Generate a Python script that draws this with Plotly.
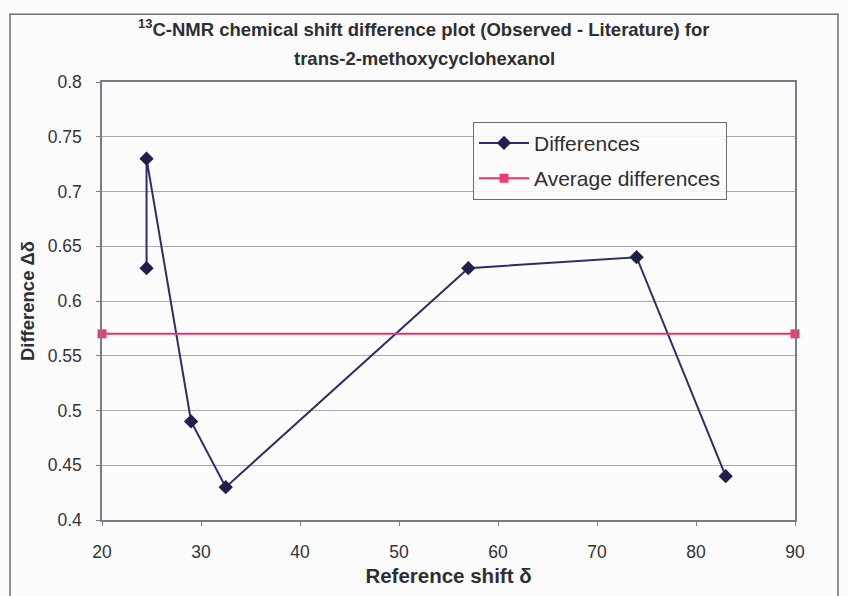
import plotly.graph_objects as go

# Reference shifts (ppm) and observed - literature differences
shift = [24.5, 24.5, 29.0, 32.5, 57.0, 74.0, 83.0]
diff = [0.63, 0.73, 0.49, 0.43, 0.63, 0.64, 0.44]

# Average difference drawn across the axis range
avg_x = [20, 90]
avg_y = [round(sum(diff) / len(diff), 3)] * 2

x_ticks = [20, 30, 40, 50, 60, 70, 80, 90]
y_ticks = [0.4, 0.45, 0.5, 0.55, 0.6, 0.65, 0.7, 0.75, 0.8]

title_lines = [
    "<sup>13</sup>C-NMR chemical shift difference plot (Observed - Literature) for",
    "trans-2-methoxycyclohexanol",
]

FONT = "Liberation Sans, Arial, sans-serif"
INK = "#2e2e33"

fig = go.Figure()
fig.add_trace(go.Scatter(
    x=shift, y=diff, mode="lines+markers", name="Differences",
    legendgroup="d",
    line=dict(color="#2d2d6c", width=2),
    marker=dict(symbol="diamond", size=11, color="#1f1f4c"),
))
fig.add_trace(go.Scatter(
    x=avg_x, y=avg_y, mode="lines+markers", name="Average differences",
    legendgroup="a",
    line=dict(color="#e4336a", width=2),
    marker=dict(symbol="square", size=9, color="#ee3a70"),
    cliponaxis=False,
))

W, H = 848, 596
L, R, T, B = 102, 795, 82, 522


def px(xp):
    return (xp - L) / (R - L)


def py(yp):
    return (B - yp) / (B - T)


annotations = [
    dict(text=f"<b>{line}</b>", xref="paper", yref="paper",
         x=px(424), y=py(yc), xanchor="center", yanchor="middle",
         showarrow=False, font=dict(family=FONT, size=18.5, color=INK))
    for line, yc in zip(title_lines, [28, 58])
]

fig.update_layout(
    width=W, height=H,
    margin=dict(l=L, r=W - R, t=T, b=H - B),
    paper_bgcolor="#fcfcfd",
    plot_bgcolor="#fcfcfd",
    showlegend=True,
    legend=dict(
        x=px(473), y=py(122), xanchor="left", yanchor="top",
        bgcolor="rgba(252,252,253,0.9)", bordercolor="#6a6a6a", borderwidth=1,
        font=dict(family=FONT, size=21, color=INK),
        tracegroupgap=5, itemwidth=50,
    ),
    annotations=annotations,
    xaxis=dict(
        range=[20, 90], tickvals=x_ticks, showgrid=False, zeroline=False,
        showline=True, linecolor="#7a7a8a", linewidth=1.5, mirror=True,
        ticks="outside", ticklen=4, tickcolor="#7a7a8a", ticklabelstandoff=11,
        tickfont=dict(family=FONT, size=17.5, color="#333"),
        title=dict(text="<b>Reference shift δ</b>", standoff=8,
                   font=dict(family=FONT, size=20.5, color=INK)),
    ),
    yaxis=dict(
        range=[0.4, 0.8], tickvals=y_ticks,
        ticktext=[f"{v:g}" for v in y_ticks],
        showgrid=True, gridcolor="#a8a8b0", gridwidth=1, zeroline=False,
        showline=True, linecolor="#7a7a8a", linewidth=1.5, mirror=True,
        ticks="outside", ticklen=4, tickcolor="#7a7a8a", ticklabelstandoff=11,
        tickfont=dict(family=FONT, size=17.5, color="#333"),
        title=dict(text="<b>Difference Δδ</b>", standoff=8,
                   font=dict(family=FONT, size=18.5, color=INK)),
    ),
    shapes=[dict(
        type="rect", xref="paper", yref="paper",
        x0=px(10), x1=px(838), y0=py(604), y1=py(14),
        line=dict(color="#6a6a78", width=1.5), fillcolor="rgba(0,0,0,0)",
        layer="below",
    )],
)

fig.write_html("out.html")
